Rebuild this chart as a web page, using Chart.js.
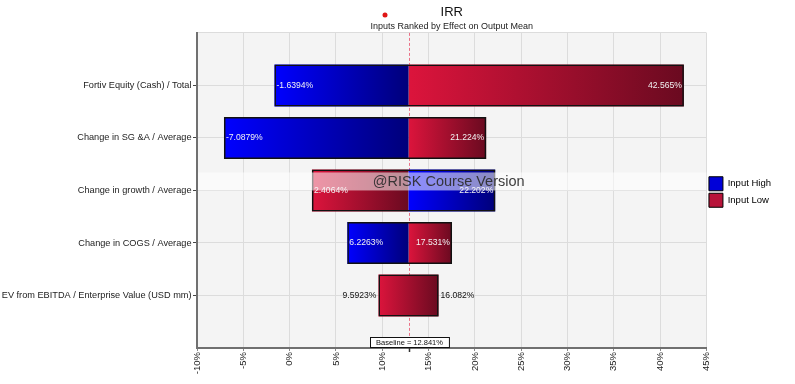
<!DOCTYPE html>
<html>
<head>
<meta charset="utf-8">
<script src="https://cdn.jsdelivr.net/npm/chart.js@4.4.1/dist/chart.umd.min.js"></script>
<style>
  html, body { margin: 0; padding: 0; background: #fff; }
  #wrap { width: 795px; height: 384px; }
</style>
</head>
<body>
<div id="wrap"><canvas id="irrChart"></canvas></div>
<script>
const categories = [
  'Fortiv Equity (Cash) / Total',
  'Change in SG &A / Average',
  'Change in growth / Average',
  'Change in COGS / Average',
  'EV from EBITDA / Enterprise Value (USD mm)'
];
const baseline = 12.841;
// output mean (%) with the input set high / low
const highInputValues = [-1.6394, -7.0879, 22.202, 6.2263, 9.5923];
const lowInputValues = [42.565, 21.224, 2.4064, 17.531, 16.082];
// the last row is shown as one Input Low bar in the original
const highShown = [true, true, true, true, false];
const xTicks = [-10, -5, 0, 5, 10, 15, 20, 25, 30, 35, 40, 45];

const FONT = '"Liberation Sans", Arial, sans-serif';

const rowMin = i => Math.min(highInputValues[i], lowInputValues[i]);
const rowMax = i => Math.max(highInputValues[i], lowInputValues[i]);

const highData = [];
const lowData = [];
const outlineData = [];
categories.forEach((c, i) => {
  if (highShown[i]) {
    highData.push({ y: i, x: [highInputValues[i], baseline] });
    lowData.push({ y: i, x: [baseline, lowInputValues[i]] });
  } else {
    lowData.push({ y: i, x: [rowMin(i), rowMax(i)] });
  }
  outlineData.push({ y: i, x: [rowMin(i), rowMax(i)] });
});

// left-to-right gradient over each bar segment
function segmentFill(from, to) {
  return (ctx) => {
    const chart = ctx.chart;
    if (ctx.type !== 'data' || !chart.chartArea || !ctx.raw) return from;
    const [a, b] = ctx.raw.x;
    const xs = chart.scales.x;
    const x0 = xs.getPixelForValue(Math.min(a, b));
    const x1 = xs.getPixelForValue(Math.max(a, b));
    const g = chart.ctx.createLinearGradient(x0, 0, x1 + 0.01, 0);
    g.addColorStop(0, from);
    g.addColorStop(1, to);
    return g;
  };
}

const areaBackground = {
  id: 'areaBackground',
  beforeDraw(chart) {
    const { ctx, chartArea: a } = chart;
    ctx.save();
    ctx.fillStyle = '#f4f4f4';
    ctx.fillRect(a.left, a.top, a.right - a.left, a.bottom - a.top);
    ctx.restore();
  }
};

const baselineLine = {
  id: 'baselineLine',
  beforeDatasetsDraw(chart) {
    const { ctx, chartArea: a, scales } = chart;
    const x = Math.round(scales.x.getPixelForValue(baseline)) + 0.5;
    ctx.save();
    ctx.strokeStyle = 'rgba(232, 90, 115, 0.85)';
    ctx.lineWidth = 1;
    ctx.setLineDash([3, 2]);
    ctx.beginPath();
    ctx.moveTo(x, a.top);
    ctx.lineTo(x, a.bottom);
    ctx.stroke();
    ctx.restore();
  },
  afterDraw(chart) {
    const { ctx, chartArea: a, scales } = chart;
    const x = Math.round(scales.x.getPixelForValue(baseline)) + 0.5;
    ctx.save();
    ctx.strokeStyle = '#333';
    ctx.lineWidth = 1.5;
    ctx.beginPath();
    ctx.moveTo(x, a.bottom);
    ctx.lineTo(x, a.bottom + 4);
    ctx.stroke();
    const text = 'Baseline = ' + baseline + '%';
    ctx.font = '7.5px ' + FONT;
    const w = ctx.measureText(text).width + 12;
    const h = 10;
    const bx = Math.round(x - w / 2) + 0.5;
    const by = Math.round(a.bottom - 11) + 0.5;
    ctx.fillStyle = '#fff';
    ctx.fillRect(bx, by, w, h);
    ctx.strokeStyle = '#111';
    ctx.lineWidth = 1;
    ctx.strokeRect(bx, by, w, h);
    ctx.fillStyle = '#111';
    ctx.textAlign = 'center';
    ctx.textBaseline = 'middle';
    ctx.fillText(text, x, by + h / 2 + 0.5);
    ctx.restore();
  }
};

const valueLabels = {
  id: 'valueLabels',
  afterDatasetsDraw(chart) {
    const { ctx, scales } = chart;
    ctx.save();
    ctx.font = '8.6px ' + FONT;
    ctx.textBaseline = 'middle';
    categories.forEach((c, i) => {
      const lo = rowMin(i), hi = rowMax(i);
      const xl = scales.x.getPixelForValue(lo);
      const xr = scales.x.getPixelForValue(hi);
      const y = scales.y.getPixelForValue(i);
      const tl = lo + '%', tr = hi + '%';
      const need = ctx.measureText(tl).width + ctx.measureText(tr).width + 10;
      if (need < xr - xl) {
        ctx.fillStyle = '#f2f2f2';
        ctx.textAlign = 'left';
        ctx.fillText(tl, xl + 2, y);
        ctx.textAlign = 'right';
        ctx.fillText(tr, xr - 2, y);
      } else {
        ctx.fillStyle = '#111';
        ctx.textAlign = 'right';
        ctx.fillText(tl, xl - 2, y);
        ctx.textAlign = 'left';
        ctx.fillText(tr, xr + 2, y);
      }
    });
    ctx.restore();
  }
};

const watermark = {
  id: 'watermark',
  afterDraw(chart) {
    const { ctx, chartArea: a } = chart;
    const mid = (a.top + a.bottom) / 2;
    ctx.save();
    ctx.fillStyle = 'rgba(255, 255, 255, 0.55)';
    ctx.fillRect(a.left + 1, mid - 18, a.right - a.left - 1, 18);
    ctx.fillStyle = 'rgba(45, 45, 45, 0.92)';
    ctx.font = '14.5px ' + FONT;
    ctx.textAlign = 'center';
    ctx.textBaseline = 'middle';
    ctx.fillText('@RISK Course Version', (a.left + a.right) / 2 - 3, mid - 8);
    // small red marker near the title
    ctx.fillStyle = '#e01515';
    ctx.beginPath();
    ctx.arc(385, 15, 2.5, 0, Math.PI * 2);
    ctx.fill();
    ctx.restore();
  }
};

new Chart(document.getElementById('irrChart'), {
  type: 'bar',
  data: {
    datasets: [
      {
        label: 'outline',
        data: outlineData,
        backgroundColor: 'rgba(0,0,0,0)',
        borderColor: '#111',
        borderWidth: 1.5,
        borderSkipped: false,
        order: 0
      },
      {
        label: 'Input High',
        data: highData,
        backgroundColor: segmentFill('#0000ff', '#00007a'),
        borderWidth: 0,
        order: 1
      },
      {
        label: 'Input Low',
        data: lowData,
        backgroundColor: segmentFill('#dc143c', '#6a0a20'),
        borderWidth: 0,
        order: 1
      }
    ]
  },
  options: {
    indexAxis: 'y',
    responsive: true,
    maintainAspectRatio: false,
    animation: false,
    grouped: false,
    barPercentage: 0.8,
    categoryPercentage: 1,
    layout: { padding: { right: 14 } },
    scales: {
      x: {
        type: 'linear',
        min: -10,
        max: 45,
        afterBuildTicks: s => { s.ticks = xTicks.map(v => ({ value: v })); },
        afterFit: s => { s.height = 36; },
        ticks: {
          callback: v => v + '%',
          minRotation: 90,
          maxRotation: 90,
          padding: 1,
          color: '#222',
          font: { family: FONT, size: 9.5 }
        },
        grid: { color: '#dcdcdc', tickLength: 3, tickColor: '#888' },
        border: { color: '#707070', width: 2 }
      },
      y: {
        type: 'linear',
        reverse: true,
        offset: false,
        min: -1,
        max: categories.length,
        afterFit: s => { s.width = 197; },
        ticks: {
          stepSize: 1,
          autoSkip: false,
          padding: 1.5,
          callback: v => categories[v] || '',
          color: '#222',
          font: { family: FONT, size: 9.2 }
        },
        grid: {
          offset: false,
          color: '#dcdcdc',
          tickLength: 4,
          tickColor: c => (c.tick && c.tick.value >= 0 && c.tick.value < categories.length) ? '#444' : 'rgba(0,0,0,0)'
        },
        border: { color: '#707070', width: 2 }
      }
    },
    plugins: {
      tooltip: { enabled: false },
      title: {
        display: true,
        text: 'IRR',
        fullSize: false,
        color: '#111',
        font: { family: FONT, size: 13, weight: 'normal' },
        padding: { top: 5, bottom: 0 }
      },
      subtitle: {
        display: true,
        text: 'Inputs Ranked by Effect on Output Mean',
        fullSize: false,
        color: '#222',
        font: { family: FONT, size: 9 },
        padding: { top: 0.5, bottom: 1 }
      },
      legend: {
        position: 'right',
        labels: {
          boxWidth: 14,
          boxHeight: 14,
          padding: 2.5,
          color: '#222',
          font: { family: FONT, size: 9.5 },
          generateLabels: () => [
            { text: 'Input High', fillStyle: '#0000d8', strokeStyle: '#000', lineWidth: 1, datasetIndex: 1 },
            { text: 'Input Low', fillStyle: '#b8143a', strokeStyle: '#000', lineWidth: 1, datasetIndex: 2 }
          ]
        }
      }
    }
  },
  plugins: [areaBackground, baselineLine, valueLabels, watermark]
});
</script>
</body>
</html>
